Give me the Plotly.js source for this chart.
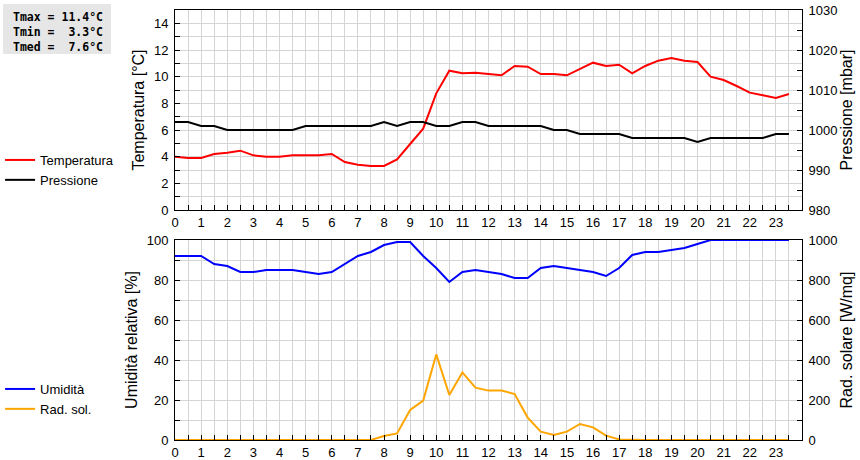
<!DOCTYPE html>
<html>
<head>
<meta charset="utf-8">
<script src="https://cdn.plot.ly/plotly-3.0.1.min.js"></script>
<style>html,body{margin:0;padding:0;background:#fff;}#chart{width:860px;height:460px;}</style>
</head>
<body>
<div id="chart"></div>
<script>
// hours of the day (half-hourly samples)
const hours = [0,0.5,1,1.5,2,2.5,3,3.5,4,4.5,5,5.5,6,6.5,7,7.5,8,8.5,9,9.5,10,10.5,11,11.5,
               12,12.5,13,13.5,14,14.5,15,15.5,16,16.5,17,17.5,18,18.5,19,19.5,20,20.5,21,21.5,22,22.5,23,23.5];
const temperatura = [4.0,3.9,3.9,4.2,4.3,4.45,4.1,4.0,4.0,4.1,4.1,4.1,4.2,3.6,3.4,3.3,3.3,3.8,4.95,6.1,8.75,10.45,10.25,10.3,
                     10.2,10.1,10.8,10.75,10.2,10.2,10.1,10.55,11.05,10.8,10.9,10.25,10.8,11.2,11.4,11.2,11.1,10.0,9.75,9.3,8.8,8.6,8.4,8.7];
const pressione = [1002,1002,1001,1001,1000,1000,1000,1000,1000,1000,1001,1001,1001,1001,1001,1001,1002,1001,1002,1002,1001,1001,1002,1002,
                   1001,1001,1001,1001,1001,1000,1000,999,999,999,999,998,998,998,998,998,997,998,998,998,998,998,999,999];
const umidita = [92,92,92,88,87,84,84,85,85,85,84,83,84,88,92,94,97.5,99,99,92,86,79,84,85,
                 84,83,81,81,86,87,86,85,84,82,86,92.5,94,94,95,96,98,100,100,100,100,100,100,100];
const radSol = [0,0,0,0,0,0,0,0,0,0,0,0,0,0,0,0,20,33,150,197,428,225,338,262,
                247,247,230,112,42,25,42,80,63,22,3,0,0,0,0,0,0,0,0,0,0,0,0,0];
const hourLabels = ['0','1','2','3','4','5','6','7','8','9','10','11','12','13','14','15','16','17','18','19','20','21','22','23'];
const hourTicks = [0,1,2,3,4,5,6,7,8,9,10,11,12,13,14,15,16,17,18,19,20,21,22,23];
const stats = {Tmax: '11.4', Tmin: '3.3', Tmed: '7.6'};

const FONT = 'Arial, "Liberation Sans", sans-serif';
const GRID = '#d4d4d4';

const traces = [
  {x: hours, y: temperatura, name: 'Temperatura', type: 'scatter', mode: 'lines',
   line: {color: '#ff0000', width: 2}, xaxis: 'x', yaxis: 'y', legend: 'legend'},
  {x: hours, y: pressione, name: 'Pressione', type: 'scatter', mode: 'lines',
   line: {color: '#000000', width: 2}, xaxis: 'x', yaxis: 'y2', legend: 'legend'},
  {x: hours, y: umidita, name: 'Umidità', type: 'scatter', mode: 'lines',
   line: {color: '#0000ff', width: 2}, xaxis: 'x2', yaxis: 'y3', legend: 'legend2'},
  {x: hours, y: radSol, name: 'Rad. sol.', type: 'scatter', mode: 'lines',
   line: {color: '#ffa500', width: 2}, xaxis: 'x2', yaxis: 'y4', legend: 'legend2'}
];

function xAx(anchor) {
  return {
    anchor: anchor, domain: [0, 1], range: [0, 24], automargin: false,
    tickmode: 'array', tickvals: hourTicks, ticktext: hourLabels,
    ticks: 'inside', ticklen: 5, tickcolor: '#000',
    showgrid: true, gridcolor: GRID, gridwidth: 1,
    minor: {tick0: 0, dtick: 0.5, ticks: 'inside', ticklen: 5, tickcolor: '#000', showgrid: true, gridcolor: GRID},
    showline: true, mirror: true, linecolor: '#000', linewidth: 1,
    zeroline: false, tickfont: {family: FONT, size: 13, color: '#000'}, fixedrange: true
  };
}
function yLeft(domain, range, dtick, mdtick, title) {
  return {
    domain: domain, range: range, dtick: dtick, tick0: 0, automargin: false,
    ticks: 'inside', ticklen: 5, tickcolor: '#000',
    showgrid: true, gridcolor: GRID,
    minor: {dtick: mdtick, ticks: 'inside', ticklen: 5, tickcolor: '#000', showgrid: true, gridcolor: GRID},
    showline: true, linecolor: '#000', linewidth: 1, zeroline: false,
    tickfont: {family: FONT, size: 13, color: '#000'},
    title: {text: title, font: {family: FONT, size: 16, color: '#000'}, standoff: 5},
    ticklabelstandoff: 3
  };
}
function yRight(over, range, dtick, mdtick, title) {
  return {
    overlaying: over, side: 'right', anchor: over === 'y' ? 'x' : 'x2', automargin: false,
    range: range, dtick: dtick, tick0: range[0],
    ticks: 'inside', ticklen: 5, tickcolor: '#000',
    showgrid: false,
    minor: {dtick: mdtick, ticks: 'inside', ticklen: 5, tickcolor: '#000', showgrid: false},
    showline: true, linecolor: '#000', linewidth: 1, zeroline: false,
    tickfont: {family: FONT, size: 13, color: '#000'},
    title: {text: title, font: {family: FONT, size: 16, color: '#000'}, standoff: 4},
    ticklabelstandoff: 3
  };
}

const topDom = [230/430, 1];
const botDom = [0, 200/430];
const PW = 627, PH = 430, L = 175, B = 440;
const px = v => (v - L) / PW;
const py = v => (B - v) / PH;

const layout = {
  width: 860, height: 460,
  margin: {l: 175, r: 58, t: 10, b: 20, autoexpand: false},
  paper_bgcolor: '#fff', plot_bgcolor: '#fff',
  font: {family: FONT, size: 13, color: '#000'},
  xaxis: xAx('y'),
  xaxis2: xAx('y3'),
  yaxis: yLeft(topDom, [0, 15], 2, 1, 'Temperatura [°C]'),
  yaxis2: yRight('y', [980, 1030], 10, 5, 'Pressione [mbar]'),
  yaxis3: yLeft(botDom, [0, 100], 20, 10, 'Umidità relativa [%]'),
  yaxis4: yRight('y3', [0, 1000], 200, 100, 'Rad. solare [W/mq]'),
  showlegend: true,
  legend: {x: -0.279, y: (440-170)/430, xanchor: 'left', yanchor: 'middle', bgcolor: 'rgba(0,0,0,0)',
           font: {family: FONT, size: 13, color: '#000'}, itemwidth: 30, tracegroupgap: 0},
  legend2: {x: -0.279, y: (440-399)/430, xanchor: 'left', yanchor: 'middle', bgcolor: 'rgba(0,0,0,0)',
           font: {family: FONT, size: 13, color: '#000'}, itemwidth: 30, tracegroupgap: 0},
  shapes: [{
    type: 'rect', xref: 'paper', yref: 'paper',
    x0: px(3), x1: px(111), y0: py(54), y1: py(4),
    fillcolor: '#e6e6e6', line: {width: 0}, layer: 'below'
  }],
  annotations: [{
    xref: 'paper', yref: 'paper', x: px(12), y: py(9), xanchor: 'left', yanchor: 'top',
    showarrow: false, align: 'left', borderpad: 0,
    font: {family: '"DejaVu Sans Mono", monospace', size: 11.5, color: '#000'},
    text: '<b>Tmax = ' + stats.Tmax.padStart(4, '\u00A0') + '°C<br>' +
          'Tmin = ' + stats.Tmin.padStart(4, '\u00A0') + '°C<br>' +
          'Tmed = ' + stats.Tmed.padStart(4, '\u00A0') + '°C</b>'
  }]
};

Plotly.newPlot('chart', traces, layout, {displayModeBar: false, staticPlot: true});
</script>
</body>
</html>
